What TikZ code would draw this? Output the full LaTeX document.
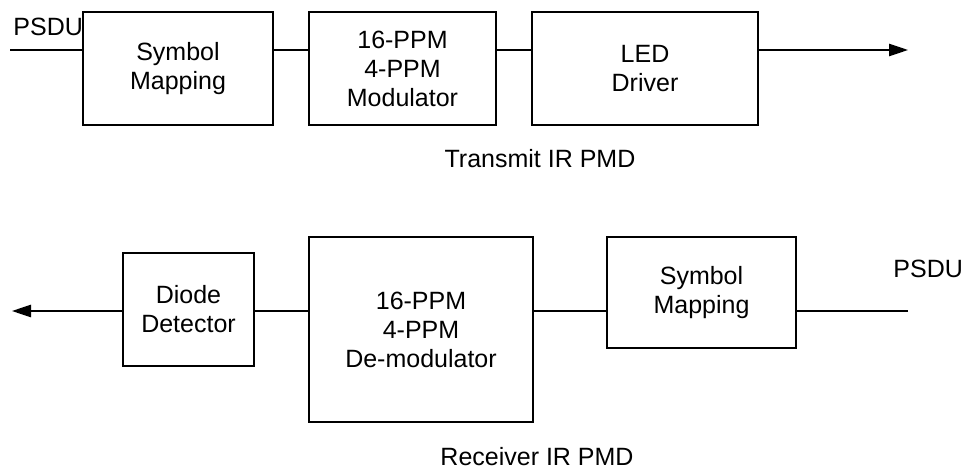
\documentclass[tikz,border=0pt]{standalone}
\usepackage{fontspec}
\setmainfont{Liberation Sans}
\usetikzlibrary{arrows.meta}
\begin{document}
\begin{tikzpicture}[x=0.5pt,y=-0.5pt,
  blk/.style={draw,line width=0.7pt,rectangle,align=center,inner sep=0pt,
    font=\fontsize{12.5pt}{14.5pt}\selectfont},
  lbl/.style={inner sep=0pt,font=\fontsize{12.5pt}{14.5pt}\selectfont},
  conn/.style={line width=0.7pt},
  arr/.style={line width=0.7pt,-{Triangle[length=9.5pt,width=6.2pt]}}]
\useasboundingbox (0,0) rectangle (963,470);
% Transmit
\node[blk,minimum width=95pt,minimum height=56.5pt] (tsm) at (178,68.5) {Symbol\\Mapping};
\node[blk,minimum width=93.5pt,minimum height=56.5pt] (tmod) at (402.5,68.5) {16-PPM\\4-PPM\\Modulator};
\node[blk,minimum width=113pt,minimum height=56.5pt] (tled) at (645,68.5) {LED\\Driver};
\coordinate (tin) at (10,50);
\coordinate (tout) at (908,50);
\node[lbl,anchor=base west] (tpsdu) at (13,36) {PSDU};
\draw[conn] (tin) -- (tin -| tsm.west);
\draw[conn] (tsm.east |- tin) -- (tmod.west |- tin);
\draw[conn] (tmod.east |- tin) -- (tled.west |- tin);
\draw[arr] (tled.east |- tin) -- (tout);
\node[lbl,anchor=base] (tcap) at (540,168) {Transmit IR PMD};
% Receive
\node[blk,minimum width=65.5pt,minimum height=56.5pt] (rdd) at (188.5,309.5) {Diode\\Detector};
\node[blk,minimum width=112pt,minimum height=92.5pt] (rdem) at (421,329.5) {16-PPM\\4-PPM\\De-modulator};
\node[blk,minimum width=94.5pt,minimum height=55.5pt] (rsm) at (701.5,292.5) {Symbol\\Mapping};
\coordinate (rin) at (908,311);
\coordinate (rout) at (12,311);
\node[lbl,anchor=base west] (rpsdu) at (893,278) {PSDU};
\draw[conn] (rin) -- (rin -| rsm.east);
\draw[conn] (rsm.west |- rin) -- (rdem.east |- rin);
\draw[conn] (rdem.west |- rin) -- (rdd.east |- rin);
\draw[arr] (rdd.west |- rin) -- (rout);
\node[lbl,anchor=base] (rcap) at (537,465) {Receiver IR PMD};
\end{tikzpicture}
\end{document}
